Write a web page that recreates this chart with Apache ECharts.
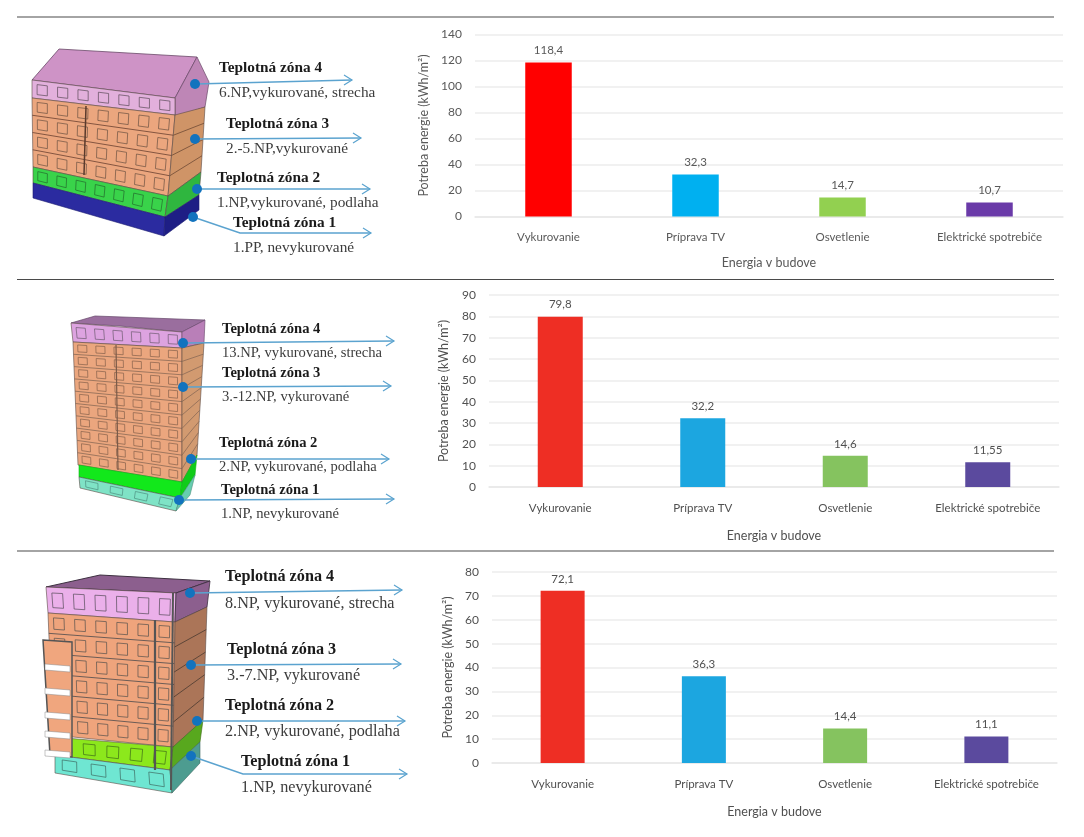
<!DOCTYPE html>
<html><head><meta charset="utf-8">
<style>html,body{margin:0;padding:0;background:#fff}#c{width:1084px;height:837px}</style>
<script src="https://cdn.jsdelivr.net/npm/echarts@6/dist/echarts.min.js"></script>
</head><body><div id="c"></div>
<script>
const categories = ['Vykurovanie', 'Príprava TV', 'Osvetlenie', 'Elektrické spotrebiče'];
const valuesTop = [118.4, 32.3, 14.7, 10.7];
const valuesMiddle = [79.8, 32.2, 14.6, 11.55];
const valuesBottom = [72.1, 36.3, 14.4, 11.1];
const axisMaxes = [140, 90, 80];
const axisSteps = [20, 10, 10];
const zoneTitles = ['Teplotná zóna 4', 'Teplotná zóna 3', 'Teplotná zóna 2', 'Teplotná zóna 1'];
const zoneNotesTop = ['6.NP,vykurované, strecha', '2.-5.NP,vykurované', '1.NP,vykurované, podlaha', '1.PP, nevykurované'];
const zoneNotesMiddle = ['13.NP, vykurované, strecha', '3.-12.NP, vykurované', '2.NP, vykurované, podlaha', '1.NP, nevykurované'];
const zoneNotesBottom = ['8.NP, vykurované, strecha', '3.-7.NP, vykurované', '2.NP, vykurované, podlaha', '1.NP, nevykurované'];
const yName = 'Potreba energie (kWh/m²)';
const xName = 'Energia v budove';

const panels = [
  {values: valuesTop, colors: ['#FF0000', '#00B0F0', '#92D050', '#6A3AA8'], left: 475, width: 588, top: 34.5, height: 182, barW: 46.5, yGap: 45, xGap: 40, text: '#595959'},
  {values: valuesMiddle, colors: ['#EE2E24', '#1CA6E0', '#85C35F', '#5B4A9E'], left: 489, width: 570, top: 295, height: 192, barW: 45, yGap: 39, xGap: 42, text: '#505050'},
  {values: valuesBottom, colors: ['#EE2E24', '#1CA6E0', '#85C35F', '#5B4A9E'], left: 492, width: 565, top: 572, height: 191, barW: 44, yGap: 38, xGap: 42, text: '#505050'}
];
const font = 'Lato, "Noto Sans", sans-serif';

const g = [];
function poly(points, fill, stroke, lw) {
  g.push({type: 'polygon', shape: {points}, style: {fill, stroke: stroke || fill, lineWidth: lw === undefined ? 0.6 : lw}, silent: true});
}
function line(a, b, stroke, lw) {
  g.push({type: 'line', shape: {x1: a[0], y1: a[1], x2: b[0], y2: b[1]}, style: {stroke, lineWidth: lw || 1}, silent: true});
}
function at(q, u, v) {
  const t = [q[0][0] + (q[1][0] - q[0][0]) * u, q[0][1] + (q[1][1] - q[0][1]) * u];
  const b = [q[3][0] + (q[2][0] - q[3][0]) * u, q[3][1] + (q[2][1] - q[3][1]) * u];
  return [t[0] + (b[0] - t[0]) * v, t[1] + (b[1] - t[1]) * v];
}
function wall(q, fill, cols, rows, winStroke, floorStroke) {
  poly(q, fill, '#5b4a44', 0.6);
  for (let r = 0; r < rows; r++) {
    if (r > 0 && floorStroke) line(at(q, 0, r / rows), at(q, 1, r / rows), floorStroke, 0.8);
    for (let c = 0; c < cols; c++) {
      const u0 = (c + .25) / cols, u1 = (c + .75) / cols, v0 = (r + .22) / rows, v1 = (r + .78) / rows;
      if (winStroke) poly([at(q, u0, v0), at(q, u1, v0), at(q, u1, v1), at(q, u0, v1)], 'rgba(0,0,0,0)', winStroke, 0.7);
    }
  }
}
function side(q, fill, rows, floorStroke) {
  poly(q, fill, '#5b4a44', 0.6);
  for (let r = 1; r < rows; r++) line(at(q, 0, r / rows), at(q, 1, r / rows), floorStroke || '#6e4a35', 0.8);
}

// Building 1
poly([[59,49],[197,57],[175,98],[32,80]], '#CE93C6', '#6a4a68', 0.8);
poly([[175,98],[197,57],[209,82],[205,107],[175,117]], '#BE86B6', '#6a4a68', 0.7);
wall([[32,80],[175,98],[175,115],[32,98]], '#E2B0DC', 7, 1, '#5a4a58');
wall([[32,98],[175,115],[168,196],[33,167]], '#EBA67E', 7, 4, '#6a5040', '#6a4030');
side([[175,115],[205,107],[201,172],[168,196]], '#CF9467', 4);
wall([[33,167],[168,196],[165,217],[33,183]], '#39D34A', 7, 1, '#24692c');
side([[168,196],[201,172],[199,195],[165,217]], '#2FB63F', 1);
poly([[33,183],[165,217],[164,236],[33,198]], '#2B2BA0', '#1c1c70');
poly([[165,217],[199,195],[199,210],[164,236]], '#1E1E85', '#1c1c70');
line([86,106],[84,175],'#5a3a2c',1.5);

// Building 2
poly([[71,323],[95,316],[205,320],[182,332],[120,326]], '#9A6E9E', '#66476a', 0.7);
wall([[71,323],[182,332],[182,348],[73,342]], '#DDA3E0', 6, 1, '#6d5a70');
poly([[182,332],[205,320],[204,343],[182,348]], '#B97FB8', '#66476a', 0.6);
wall([[73,342],[182,348],[182,482],[78,465]], '#EBA67E', 6, 10, '#85604a', '#8a6a55');
side([[182,348],[204,343],[197,455],[182,482]], '#D29A70', 10, '#8a6a55');
line([116,345],[118,470],'#7b5a48',1.2);
poly([[79,465],[182,482],[180,498],[79,477]], '#12E81B', '#0fae18');
poly([[182,482],[197,455],[195,475],[180,498]], '#10CC19', '#0fae18');
wall([[79,477],[180,498],[176,511],[80,488]], '#7FE3C6', 4, 1, '#4d8f80');
poly([[180,498],[195,475],[190,495],[176,511]], '#66CDB0', '#4d8f80');

// Building 3
poly([[46,587],[100,575],[210,581],[176,593]], '#8C5F8E', '#3d3040', 1);
wall([[46,587],[176,593],[175,622],[48,613]], '#EBB0EA', 6, 1, '#554a58', null);
poly([[176,593],[210,581],[207,607],[175,622]], '#8C5F8E', '#3d3040', 0.8);
wall([[48,613],[175,622],[173,747],[53,735]], '#EFA47C', 6, 6, '#55504c', '#4a4a4c');
side([[175,622],[207,607],[203,720],[173,747]], '#AB7558', 5, '#4a3a30');
wall([[53,737],[173,747],[170,770],[55,755]], '#8CE81C', 5, 1, '#3d6a18');
poly([[173,747],[203,720],[200,742],[170,770]], '#58A81E', '#3d6a18');
wall([[55,755],[170,770],[172,793],[55,773]], '#6FE6D2', 4, 1, '#3e6a62');
poly([[170,770],[200,742],[200,763],[172,793]], '#4D9C90', '#3e6a62');
poly([[43,640],[72,642],[72,757],[50,755]], '#F0A67E', '#555', 1.5);
for (const y of [664, 688, 712, 731, 750]) poly([[45,y],[70,y+2],[70,y+8],[45,y+6]], '#ffffff', '#888', 0.5);
line([155,620],[155,770],'#555',2.2);
line([173,593],[171,790],'#555',2);

// Zone labels and arrows
const zones = [
  {notes: zoneNotesTop, size: 15.3, items: [
    {x: 219, y: 68, ny: 93, dot: [195,84], path: [[195,84],[352,80]]},
    {x: 226, y: 124, ny: 149, dot: [195,139], path: [[195,139],[361,138]]},
    {x: 217, y: 178, ny: 203, dot: [197,189], path: [[197,189],[370,189]]},
    {x: 233, y: 223, ny: 248, dot: [193,217], path: [[193,217],[240,233],[371,233]]}]},
  {notes: zoneNotesMiddle, size: 14.6, items: [
    {x: 222, y: 329, ny: 353, dot: [183,343], path: [[183,343],[394,341]]},
    {x: 222, y: 373, ny: 397, dot: [183,387], path: [[183,387],[391,386]]},
    {x: 219, y: 443, ny: 467, dot: [191,459], path: [[191,459],[389,459]]},
    {x: 221, y: 490, ny: 514, dot: [179,500], path: [[179,500],[394,499]]}]},
  {notes: zoneNotesBottom, size: 16.2, items: [
    {x: 225, y: 577, ny: 604, dot: [190,593], path: [[190,593],[402,590]]},
    {x: 227, y: 650, ny: 676, dot: [191,665], path: [[191,665],[401,664]]},
    {x: 225, y: 706, ny: 732, dot: [197,721], path: [[197,721],[405,721]]},
    {x: 241, y: 762, ny: 788, dot: [191,756], path: [[191,756],[243,774],[407,774]]}]}
];
zones.forEach(z => z.items.forEach((it, i) => {
  g.push({type: 'polyline', shape: {points: it.path}, style: {stroke: '#5BA3CF', lineWidth: 1.5, fill: 'none'}, silent: true});
  const e = it.path[it.path.length - 1];
  g.push({type: 'polyline', shape: {points: [[e[0]-8, e[1]-5],[e[0], e[1]],[e[0]-8, e[1]+5]]}, style: {stroke: '#5BA3CF', lineWidth: 1.2, fill: 'none'}, silent: true});
  g.push({type: 'circle', shape: {cx: it.dot[0], cy: it.dot[1], r: 5}, style: {fill: '#1273BE'}, silent: true});
  g.push({type: 'text', x: it.x, y: it.y, style: {text: zoneTitles[i], fill: '#1a1a1a', font: 'bold ' + z.size + 'px "Liberation Serif", serif', textVerticalAlign: 'middle', textBaseline: 'middle'}, silent: true});
  g.push({type: 'text', x: it.x, y: it.ny, style: {text: z.notes[i], fill: '#3c3c3c', font: z.size + 'px "Liberation Serif", serif', textVerticalAlign: 'middle', textBaseline: 'middle'}, silent: true});
}));
// Section rules
[17, 279.5, 551].forEach(y => line([17, y], [1054, y], '#4a4a4a', 1.2));

const option = {
  animation: false,
  backgroundColor: '#fff',
  graphic: {elements: g},
  grid: panels.map(p => ({left: p.left, width: p.width, top: p.top, height: p.height})),
  xAxis: panels.map((p, i) => ({
    type: 'category', gridIndex: i, data: categories,
    axisTick: {show: false}, axisLine: {lineStyle: {color: '#E8E8E8', width: 1.5}},
    axisLabel: {color: p.text, fontFamily: font, fontSize: 11.5, margin: 15, interval: 0},
    name: xName, nameLocation: 'middle', nameGap: p.xGap,
    nameTextStyle: {color: p.text, fontFamily: font, fontSize: 12.5}
  })),
  yAxis: panels.map((p, i) => ({
    type: 'value', gridIndex: i, min: 0, max: axisMaxes[i], interval: axisSteps[i],
    axisLine: {show: false}, axisTick: {show: false},
    splitLine: {lineStyle: {color: '#EDEDED', width: 1.5}},
    axisLabel: {color: p.text, fontFamily: font, fontSize: 12, margin: 13},
    name: yName, nameLocation: 'middle', nameGap: p.yGap,
    nameTextStyle: {color: p.text, fontFamily: font, fontSize: 12.5}
  })),
  series: panels.map((p, i) => ({
    type: 'bar', xAxisIndex: i, yAxisIndex: i, barWidth: p.barW,
    data: p.values.map((v, k) => ({value: v, itemStyle: {color: p.colors[k]}})),
    label: {show: true, position: 'top', distance: 6, color: p.text, fontFamily: font, fontSize: 11.5,
      formatter: o => String(o.value).replace('.', ',')}
  }))
};
echarts.init(document.getElementById('c'), null, {renderer: 'canvas'}).setOption(option);
</script></body></html>
